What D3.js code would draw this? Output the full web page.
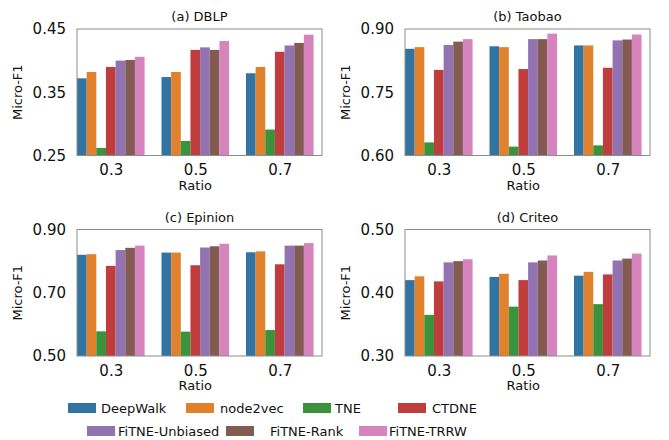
<!DOCTYPE html>
<html>
<head>
<meta charset="utf-8">
<script src="https://cdn.jsdelivr.net/npm/d3@7"></script>
<style>
  body { margin: 0; background: #fff; }
  text { font-family: "Comic Sans MS", "DejaVu Sans", sans-serif; fill: #111; }
</style>
</head>
<body>
<div id="chart"></div>
<script>
// Data
var ratios = ['0.3', '0.5', '0.7'];
var methods = ['DeepWalk', 'node2vec', 'TNE', 'CTDNE', 'FiTNE-Unbiased', 'FiTNE-Rank', 'FiTNE-TRRW'];
var colors = ['#3274a1', '#e1812c', '#3a923a', '#c03d3e', '#9372b2', '#845b53', '#d684bd'];

// one row per ratio, one value per method
var dblp = [
    [0.372, 0.382, 0.262, 0.390, 0.400, 0.401, 0.406],
    [0.374, 0.382, 0.273, 0.417, 0.421, 0.417, 0.431],
    [0.380, 0.390, 0.291, 0.414, 0.424, 0.428, 0.441]
];
var taobao = [
    [0.853, 0.857, 0.631, 0.803, 0.862, 0.870, 0.876],
    [0.859, 0.857, 0.621, 0.805, 0.876, 0.876, 0.889],
    [0.861, 0.861, 0.624, 0.808, 0.873, 0.875, 0.887]
];
var epinion = [
    [0.820, 0.822, 0.578, 0.785, 0.835, 0.842, 0.849],
    [0.827, 0.827, 0.577, 0.787, 0.843, 0.847, 0.855],
    [0.828, 0.831, 0.582, 0.790, 0.849, 0.849, 0.857]
];
var criteo = [
    [0.420, 0.426, 0.365, 0.418, 0.448, 0.450, 0.453],
    [0.425, 0.430, 0.378, 0.420, 0.448, 0.451, 0.459],
    [0.427, 0.433, 0.382, 0.429, 0.451, 0.454, 0.462]
];

var titles = ['(a) DBLP', '(b) Taobao', '(c) Epinion', '(d) Criteo'];
var yDomains = [[0.25, 0.45], [0.60, 0.90], [0.50, 0.90], [0.30, 0.50]];
var yTicks = [[0.25, 0.35, 0.45], [0.60, 0.75, 0.90], [0.50, 0.70, 0.90], [0.30, 0.40, 0.50]];
var datasets = [dblp, taobao, epinion, criteo];

var width = 669,
    height = 440,
    plotW = 245,
    plotH = 126.5,
    // top-left corners of the four plot areas
    origins = [[77, 29], [405, 29], [77, 229.5], [405, 229.5]];

var svg = d3.select('#chart').append('svg')
    .attr('width', width)
    .attr('height', height);

datasets.forEach(function(data, p) {
    var ox = origins[p][0], oy = origins[p][1];
    var g = svg.append('g').attr('transform', 'translate(' + ox + ',' + oy + ')');

    // group positions 0,1,2 ; axis slightly wider on the right like the original
    var x = d3.scaleLinear().domain([-0.4, 2.5]).range([0, plotW]);
    var y = d3.scaleLinear().domain(yDomains[p]).range([plotH, 0]);
    var barW = (x(0.8) - x(0)) / methods.length;

    ratios.forEach(function(r, i) {
        g.selectAll('rect.r' + i).data(data[i]).enter()
            .append('rect')
            .attr('x', function(d, j) { return x(i - 0.4) + j * barW; })
            .attr('y', function(d) { return y(d); })
            .attr('width', barW)
            .attr('height', function(d) { return plotH - y(d); })
            .attr('fill', function(d, j) { return colors[j]; });
    });

    // frame
    g.append('rect')
        .attr('width', plotW).attr('height', plotH)
        .attr('fill', 'none').attr('stroke', '#8c8c8c').attr('stroke-width', 1);

    var yAxis = d3.axisLeft(y).tickValues(yTicks[p]).tickFormat(d3.format('.2f')).tickSize(0).tickPadding(11);
    var ya = g.append('g').call(yAxis);
    ya.select('.domain').remove();
    ya.selectAll('text').style('font-size', '15px').attr('fill', '#111');

    var xAxis = d3.axisBottom(x).tickValues([0, 1, 2]).tickFormat(function(d) { return ratios[d]; }).tickSize(0).tickPadding(9);
    var xa = g.append('g').attr('transform', 'translate(0,' + plotH + ')').call(xAxis);
    xa.select('.domain').remove();
    xa.selectAll('text').style('font-size', '15px').attr('fill', '#111');

    g.append('text')
        .attr('x', plotW / 2).attr('y', -8)
        .attr('text-anchor', 'middle')
        .style('font-size', '13px')
        .text(titles[p]);

    g.append('text')
        .attr('x', x(1)).attr('y', plotH + 34)
        .attr('text-anchor', 'middle')
        .style('font-size', '13px')
        .text('Ratio');

    g.append('text')
        .attr('transform', 'translate(' + (-55) + ',' + (plotH / 2) + ') rotate(-90)')
        .attr('text-anchor', 'middle')
        .style('font-size', '13px')
        .text('Micro-F1');
});

// Legend, two rows like the original
var legendPos = [[68, 403], [186, 403], [303, 403], [398, 403], [87, 426], [226, 426], [359, 426]];
var legendTextX = [101, 220, 335, 432, 118, 270, 389];

var legend = svg.append('g');
methods.forEach(function(m, i) {
    legend.append('rect')
        .attr('x', legendPos[i][0]).attr('y', legendPos[i][1])
        .attr('width', 28).attr('height', 10)
        .attr('fill', colors[i]);
    legend.append('text')
        .attr('x', legendTextX[i]).attr('y', legendPos[i][1] + 10)
        .style('font-size', '13px')
        .text(m);
});
</script>
</body>
</html>
